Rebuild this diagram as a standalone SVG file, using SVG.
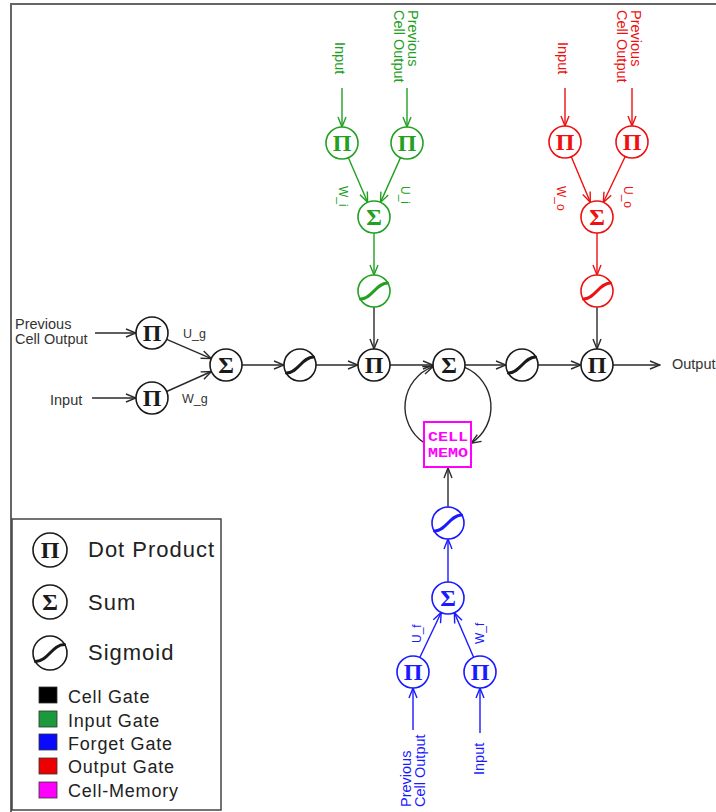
<svg xmlns="http://www.w3.org/2000/svg" width="716" height="812" viewBox="0 0 716 812">
<style>
.nd{fill:#fff;stroke-width:1.6}
.gl{font-family:"Liberation Serif","DejaVu Serif",serif;font-weight:bold;font-size:24px;text-anchor:middle}
.sg{fill:none;stroke-width:3;stroke-linecap:round}
.k circle,.k path{stroke:#1a1a1a}.k text{fill:#1a1a1a}
.g circle,.g path{stroke:#22a022}.g text{fill:#22a022}
.b circle,.b path{stroke:#1a1aff}.b text{fill:#1a1aff}
.r circle,.r path{stroke:#ee1111}.r text{fill:#ee1111}
.ln{fill:none;stroke-width:1.4}
.lk{stroke:#2a2a2a}.lg{stroke:#22a022}.lb{stroke:#1a1aff}.lr{stroke:#ee1111}
.t{font-family:"Liberation Sans",Arial,sans-serif;font-size:14.5px}
.w{font-family:"Liberation Sans",Arial,sans-serif;font-size:12px}
.wh{font-family:"Liberation Sans",Arial,sans-serif;font-size:12.5px;fill:#333}
.tk{fill:#333}.tg{fill:#22a022}.tb{fill:#1a1aff}.tr{fill:#ee1111}
.lg1{font-family:"Liberation Sans",Arial,sans-serif;font-size:22px;letter-spacing:1px;fill:#222}
.lg2{font-family:"Liberation Sans",Arial,sans-serif;font-size:18px;letter-spacing:0.8px;fill:#222}
.cm{font-family:"Liberation Mono",monospace;font-weight:bold;font-size:13px;fill:#ff00ff}
</style>
<defs>
<marker id="mk" viewBox="-1 -1 12 10" refX="10" refY="4" markerWidth="12" markerHeight="10" markerUnits="userSpaceOnUse" orient="auto"><path d="M0,0 L10,4 L0,8" fill="none" stroke="#2a2a2a" stroke-width="1.4"/></marker>
<marker id="mg" viewBox="-1 -1 12 10" refX="10" refY="4" markerWidth="12" markerHeight="10" markerUnits="userSpaceOnUse" orient="auto"><path d="M0,0 L10,4 L0,8" fill="none" stroke="#22a022" stroke-width="1.4"/></marker>
<marker id="mb" viewBox="-1 -1 12 10" refX="10" refY="4" markerWidth="12" markerHeight="10" markerUnits="userSpaceOnUse" orient="auto"><path d="M0,0 L10,4 L0,8" fill="none" stroke="#1a1aff" stroke-width="1.4"/></marker>
<marker id="mr" viewBox="-1 -1 12 10" refX="10" refY="4" markerWidth="12" markerHeight="10" markerUnits="userSpaceOnUse" orient="auto"><path d="M0,0 L10,4 L0,8" fill="none" stroke="#ee1111" stroke-width="1.4"/></marker>
</defs>
<rect width="716" height="812" fill="#fff"/>
<path d="M11,812 V4 H716" fill="none" stroke="#666" stroke-width="2"/>

<g id="connectors">
<g class="ln lk" marker-end="url(#mk)">
<path d="M95,333 L136,333"/>
<path d="M92,398 L136,398"/>
<path d="M166.7,339.4 L211.3,358.6"/>
<path d="M166.6,391.5 L211.4,371.5"/>
<path d="M242,365 L284,365"/>
<path d="M316,365 L358,365"/>
<path d="M390,365 L433,365"/>
<path d="M465,365 L506,365"/>
<path d="M538,365 L581,365"/>
<path d="M613,365 L660,365"/>
<path d="M374,307 L374,349"/>
<path d="M597,307 L597,349"/>
<path d="M448,507 L448,468"/>
<path d="M464.8,367.4 A43,43 0 0 1 471,443.3"/>
<path d="M424,442.7 A43,43 0 0 1 433,366.7"/>
</g>
<g class="ln lg" marker-end="url(#mg)">
<path d="M342,88 L342,127"/>
<path d="M407,88 L407,127"/>
<path d="M348.4,157.7 L367.6,202.3"/>
<path d="M400.5,157.6 L380.5,202.4"/>
<path d="M374,233 L374,275"/>
</g>
<g class="ln lr" marker-end="url(#mr)">
<path d="M565,88 L565,126"/>
<path d="M632,88 L632,126"/>
<path d="M571.3,156.7 L590.3,202.3"/>
<path d="M625.2,156.5 L603.3,202.5"/>
<path d="M597,233 L597,275"/>
</g>
<g class="ln lb" marker-end="url(#mb)">
<path d="M413,730 L413,688"/>
<path d="M480,733 L480,688"/>
<path d="M419.8,657.5 L441.2,612.5"/>
<path d="M473.6,657.3 L454.4,612.7"/>
<path d="M448,582 L448,539"/>
</g>
</g>

<!-- Cell gate (black) -->
<g id="cg-pi-prev" class="k" transform="translate(152,333)"><circle r="16" class="nd"/><text class="gl" y="8">Π</text></g>
<g id="cg-pi-input" class="k" transform="translate(152,398)"><circle r="16" class="nd"/><text class="gl" y="8">Π</text></g>
<g id="cg-sum" class="k" transform="translate(226,365)"><circle r="16" class="nd"/><text class="gl" y="8">Σ</text></g>
<g id="cg-sig" class="k" transform="translate(300,365)"><circle r="16" class="nd"/><path class="sg" d="M-13.5,8 C-2,8 2,-8 13.5,-8"/></g>
<g id="main-pi-input" class="k" transform="translate(374,365)"><circle r="16" class="nd"/><text class="gl" y="8">Π</text></g>
<g id="mem-sum" class="k" transform="translate(449,365)"><circle r="16" class="nd"/><text class="gl" y="8">Σ</text></g>
<g id="mem-sig" class="k" transform="translate(522,365)"><circle r="16" class="nd"/><path class="sg" d="M-13.5,8 C-2,8 2,-8 13.5,-8"/></g>
<g id="main-pi-output" class="k" transform="translate(597,365)"><circle r="16" class="nd"/><text class="gl" y="8">Π</text></g>

<!-- Input gate (green) -->
<g id="ig-pi-input" class="g" transform="translate(342,143)"><circle r="16" class="nd"/><text class="gl" y="8">Π</text></g>
<g id="ig-pi-prev" class="g" transform="translate(407,143)"><circle r="16" class="nd"/><text class="gl" y="8">Π</text></g>
<g id="ig-sum" class="g" transform="translate(374,217)"><circle r="16" class="nd"/><text class="gl" y="8">Σ</text></g>
<g id="ig-sig" class="g" transform="translate(374,291)"><circle r="16" class="nd"/><path class="sg" d="M-13.5,8 C-2,8 2,-8 13.5,-8"/></g>

<!-- Output gate (red) -->
<g id="og-pi-input" class="r" transform="translate(565,142)"><circle r="16" class="nd"/><text class="gl" y="8">Π</text></g>
<g id="og-pi-prev" class="r" transform="translate(632,142)"><circle r="16" class="nd"/><text class="gl" y="8">Π</text></g>
<g id="og-sum" class="r" transform="translate(597,217)"><circle r="16" class="nd"/><text class="gl" y="8">Σ</text></g>
<g id="og-sig" class="r" transform="translate(597,291)"><circle r="16" class="nd"/><path class="sg" d="M-13.5,8 C-2,8 2,-8 13.5,-8"/></g>

<!-- Forget gate (blue) -->
<g id="fg-pi-prev" class="b" transform="translate(413,672)"><circle r="16" class="nd"/><text class="gl" y="8">Π</text></g>
<g id="fg-pi-input" class="b" transform="translate(480,672)"><circle r="16" class="nd"/><text class="gl" y="8">Π</text></g>
<g id="fg-sum" class="b" transform="translate(448,598)"><circle r="16" class="nd"/><text class="gl" y="8">Σ</text></g>
<g id="fg-sig" class="b" transform="translate(448,523)"><circle r="16" class="nd"/><path class="sg" d="M-13.5,8 C-2,8 2,-8 13.5,-8"/></g>

<!-- Cell memory -->
<g id="cell-memory">
<rect x="424" y="422" width="47" height="45" fill="#fff" stroke="#ff00ff" stroke-width="2"/>
<text class="cm" x="448" y="441" text-anchor="middle" textLength="40" lengthAdjust="spacingAndGlyphs">CELL</text>
<text class="cm" x="448" y="457" text-anchor="middle" textLength="40" lengthAdjust="spacingAndGlyphs">MEMO</text>
</g>

<!-- Labels -->
<g id="labels">
<text class="t tk" x="15" y="329">Previous</text>
<text class="t tk" x="15" y="344">Cell Output</text>
<text class="t tk" x="50" y="405">Input</text>
<text class="wh" x="183" y="338">U_g</text>
<text class="wh" x="182" y="403">W_g</text>
<text class="t tk" x="672" y="369">Output</text>

<text class="t tg" transform="translate(335,42) rotate(90)">Input</text>
<text class="t tg" transform="translate(408,10) rotate(90)">Previous</text>
<text class="t tg" transform="translate(394,10) rotate(90)">Cell Output</text>
<text class="w tg" transform="translate(339,186) rotate(90)">W_i</text>
<text class="w tg" transform="translate(401,186) rotate(90)">U_i</text>

<text class="t tr" transform="translate(558,42) rotate(90)">Input</text>
<text class="t tr" transform="translate(631,10) rotate(90)">Previous</text>
<text class="t tr" transform="translate(617,10) rotate(90)">Cell Output</text>
<text class="w tr" transform="translate(557,186) rotate(90)">W_o</text>
<text class="w tr" transform="translate(624,186) rotate(90)">U_o</text>

<text class="t tb" transform="translate(411,807) rotate(-90)">Previous</text>
<text class="t tb" transform="translate(425,807) rotate(-90)">Cell Output</text>
<text class="t tb" transform="translate(484,775) rotate(-90)">Input</text>
<text class="w tb" transform="translate(421,643) rotate(-90)">U_f</text>
<text class="w tb" transform="translate(484,644) rotate(-90)">W_f</text>
</g>

<!-- Legend -->
<g id="legend">
<rect x="12" y="519" width="209" height="291" fill="#fff" stroke="#444" stroke-width="1.5"/>
<g class="k" transform="translate(50,550)"><circle r="17" class="nd" stroke-width="1.4"/><text class="gl" y="8">Π</text></g>
<g class="k" transform="translate(50,602)"><circle r="17" class="nd" stroke-width="1.4"/><text class="gl" y="8">Σ</text></g>
<g class="k" transform="translate(50,653)"><circle r="17" class="nd" stroke-width="1.4"/><path class="sg" d="M-14.5,8.5 C-2,8.5 2,-8.5 14.5,-8.5"/></g>
<text class="lg1" x="88" y="557">Dot Product</text>
<text class="lg1" x="88" y="610">Sum</text>
<text class="lg1" x="88" y="660">Sigmoid</text>
<rect x="39" y="687" width="18" height="16" fill="#000" stroke="#333" stroke-width="0.8"/>
<rect x="39" y="711" width="18" height="16" fill="#1a9a3a" stroke="#333" stroke-width="0.8"/>
<rect x="39" y="734" width="18" height="16" fill="#0a0aff" stroke="#333" stroke-width="0.8"/>
<rect x="39" y="758" width="18" height="16" fill="#ee0000" stroke="#333" stroke-width="0.8"/>
<rect x="39" y="782" width="18" height="16" fill="#ff00ff" stroke="#333" stroke-width="0.8"/>
<text class="lg2" x="68" y="703">Cell Gate</text>
<text class="lg2" x="68" y="727">Input Gate</text>
<text class="lg2" x="68" y="750">Forget Gate</text>
<text class="lg2" x="68" y="773">Output Gate</text>
<text class="lg2" x="68" y="797">Cell-Memory</text>
</g>
</svg>
